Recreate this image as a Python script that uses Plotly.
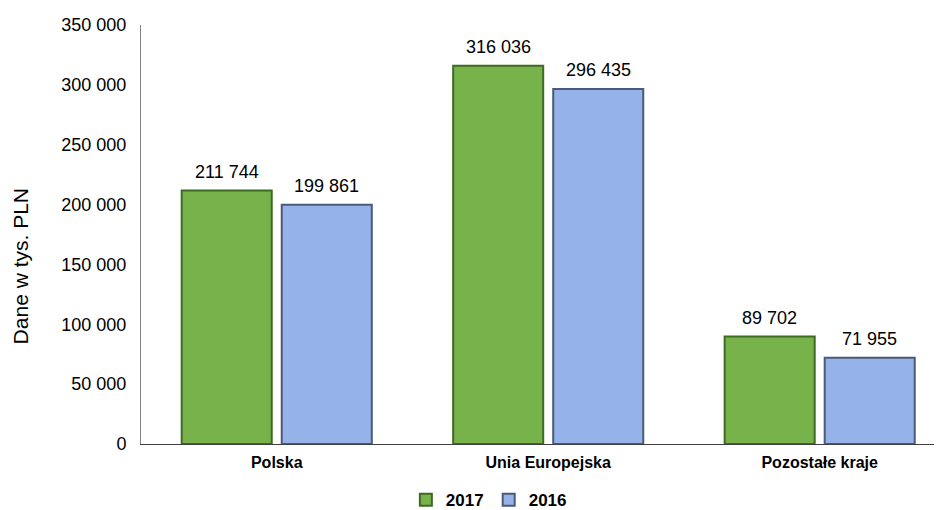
import plotly.graph_objects as go

categories = ["Polska", "Unia Europejska", "Pozostałe kraje"]
values_2017 = [211744, 316036, 89702]
values_2016 = [199861, 296435, 71955]
series_names = ["2017", "2016"]
y_ticks = [0, 50000, 100000, 150000, 200000, 250000, 300000, 350000]
y_title = "Dane w tys. PLN"

font_family = "Liberation Sans, Arial, sans-serif"

fig = go.Figure()
fig.add_trace(go.Bar(
    name=series_names[0], x=categories, y=values_2017,
    marker=dict(color="#77B24B", line=dict(color="#3E6B22", width=2)),
))
fig.add_trace(go.Bar(
    name=series_names[1], x=categories, y=values_2016,
    marker=dict(color="#95B3E8", line=dict(color="#4A5A78", width=2)),
))

# data labels placed from the data values
for series, shift in ((values_2017, -50), (values_2016, 50)):
    for cat, val in zip(categories, series):
        fig.add_annotation(
            x=cat, y=val, xref="x", yref="y", text=f"{val:,}".replace(",", " "),
            showarrow=False, xshift=shift, yshift=7, yanchor="bottom",
            font=dict(size=18, color="#000000", family=font_family),
        )

# y axis title
fig.add_annotation(
    text=y_title, xref="paper", yref="paper", x=-0.149, y=0.425,
    xanchor="center", yanchor="middle", textangle=-90, showarrow=False,
    font=dict(size=21, color="#000000", family=font_family),
)

fig.update_layout(
    width=942, height=510,
    margin=dict(l=133, r=0, t=17, b=74, autoexpand=False),
    paper_bgcolor="white", plot_bgcolor="white",
    separators=", ",
    barmode="group", bargap=0.263, bargroupgap=0.1,
    font=dict(family=font_family, color="#000000"),
    showlegend=True,
    legend=dict(orientation="h", x=0.43, xanchor="center", y=-0.134, yanchor="middle",
                font=dict(size=17, family="Liberation Sans, Arial", color="#000000", weight="bold"),
                itemwidth=30, tracegroupgap=0),
)
fig.update_xaxes(
    range=[-0.5, 2.48], showgrid=False, showline=True, linecolor="#404040", linewidth=1,
    ticks="", automargin=False, ticklabelstandoff=4,
    tickfont=dict(size=16, family="Liberation Sans, Arial", weight="bold"),
)
fig.update_yaxes(
    range=[0, 350000], tickvals=y_ticks, tickformat=",d", showgrid=False,
    showline=True, linecolor="#808080", linewidth=1, ticks="", zeroline=False,
    automargin=False,
    tickfont=dict(size=18), ticklabelstandoff=10,
)

fig.write_html("out.html")
